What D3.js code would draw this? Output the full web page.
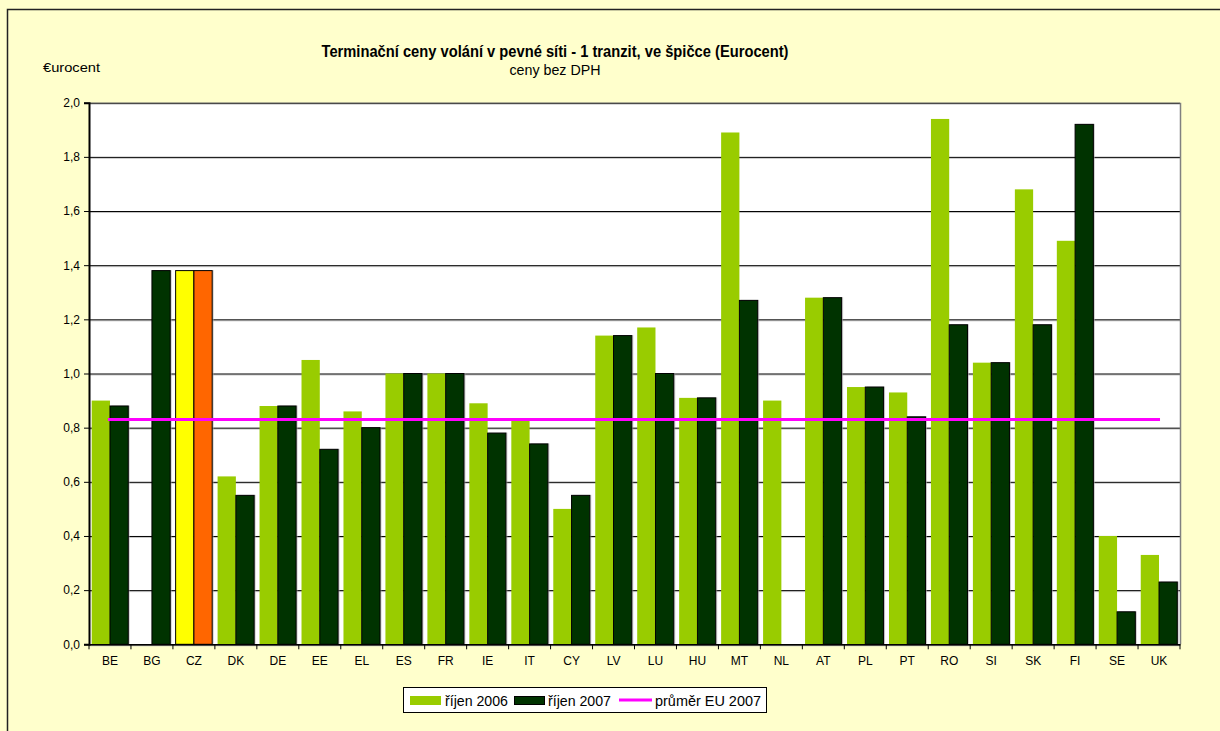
<!DOCTYPE html>
<html><head><meta charset="utf-8">
<script src="https://cdn.jsdelivr.net/npm/d3@7"></script>
<style>
html,body{margin:0;padding:0;background:#FFFFCC;}
svg{display:block;font-family:"Liberation Sans",Arial,sans-serif;}
</style></head>
<body>
<script>
const categories = ["BE","BG","CZ","DK","DE","EE","EL","ES","FR","IE","IT","CY","LV","LU","HU","MT","NL","AT","PL","PT","RO","SI","SK","FI","SE","UK"];
const oct2006 = [0.90,null,1.38,0.62,0.88,1.05,0.86,1.00,1.00,0.89,0.83,0.50,1.14,1.17,0.91,1.89,0.90,1.28,0.95,0.93,1.94,1.04,1.68,1.49,0.40,0.33];
const oct2007 = [0.88,1.38,1.38,0.55,0.88,0.72,0.80,1.00,1.00,0.78,0.74,0.55,1.14,1.00,0.91,1.27,null,1.28,0.95,0.84,1.18,1.04,1.18,1.92,0.12,0.23];
const euAverage2007 = 0.83;
const yTicks = [0,0.2,0.4,0.6,0.8,1.0,1.2,1.4,1.6,1.8,2.0];
const seriesNames = ["říjen 2006","říjen 2007","průměr EU 2007"];
const titleText = "Terminační ceny volání v pevné síti - 1 tranzit, ve špičce (Eurocent)";
const subtitleText = "ceny bez DPH";
const yAxisLabel = "€urocent";

const W = 1220, H = 731;
const m = {left: 89, right: 1180, top: 102.7, bottom: 644.3};
const colG = "#99CC00", colD = "#003300", colY = "#FFFF00", colO = "#FF6600", colM = "#FF00FF";

const svg = d3.select("body").append("svg").attr("width", W).attr("height", H);
svg.append("rect").attr("x",0).attr("y",0).attr("width",W).attr("height",H).attr("fill","#FFFFCC");
// outer border
svg.append("rect").attr("x",7.5).attr("y",9.5).attr("width",W+20).attr("height",H+20)
  .attr("fill","none").attr("stroke","#222").attr("stroke-width",1.5);

const x = d3.scaleBand().domain(categories).range([m.left, m.right]).padding(0);
const xi = d3.scaleBand().domain([0,1]).range([0, x.bandwidth()]).paddingInner(0).paddingOuter(0.148);
const y = d3.scaleLinear().domain([0,2]).range([m.bottom, m.top]);

// plot background
svg.append("rect").attr("x",m.left).attr("y",m.top).attr("width",m.right-m.left).attr("height",m.bottom-m.top).attr("fill","#fff");

// gridlines
const grid = svg.append("g");
yTicks.forEach(t => {
  grid.append("line").attr("x1",m.left).attr("x2",m.right).attr("y1",y(t)+1.5).attr("y2",y(t)+1.5).attr("stroke","#c8c8c8").attr("stroke-width",1);
  grid.append("line").attr("x1",m.left).attr("x2",m.right).attr("y1",y(t)+0.5).attr("y2",y(t)+0.5).attr("stroke","#000").attr("stroke-width",1);
});
// right border
svg.append("line").attr("x1",m.right+0.5).attr("x2",m.right+0.5).attr("y1",m.top).attr("y2",m.bottom).attr("stroke","#808080").attr("stroke-width",1.5);

// bars
const bars = svg.append("g");
categories.forEach((c,i) => {
  const v1 = oct2006[i], v2 = oct2007[i];
  const isCZ = c === "CZ";
  if (v1 != null) {
    const bx = x(c) + xi(0), by = y(v1), bw = xi.bandwidth(), bh = y(0) - y(v1);
    bars.append("rect").attr("x",bx).attr("y",by).attr("width",bw).attr("height",bh)
      .attr("fill", isCZ ? colY : colG)
      .attr("stroke", isCZ ? "#000" : "none").attr("stroke-width", 1);
  }
  if (v2 != null) {
    const bx = x(c) + xi(1), by = y(v2), bw = xi.bandwidth(), bh = y(0) - y(v2);
    bars.append("rect").attr("x",bx+1.5).attr("y",by-0.5).attr("width",bw).attr("height",bh)
      .attr("fill","#aaa").attr("opacity",0.6);
    bars.append("rect").attr("x",bx).attr("y",by).attr("width",bw).attr("height",bh)
      .attr("fill", isCZ ? colO : colD)
      .attr("stroke","#000").attr("stroke-width",1);
  }
});

// EU average line
const first = categories[0], last = categories[categories.length-1];
svg.append("line")
  .attr("x1", x(first) + x.bandwidth()/2 - 2).attr("x2", x(last) + x.bandwidth()/2 + 1)
  .attr("y1", y(euAverage2007)).attr("y2", y(euAverage2007))
  .attr("stroke", colM).attr("stroke-width", 3);

// y axis
const yAxis = d3.axisLeft(y).tickValues(yTicks).tickSize(5).tickPadding(4)
  .tickFormat(d => d3.format(".1f")(d).replace(".", ","));
const ya = svg.append("g").attr("transform",`translate(${m.left},0)`).call(yAxis);
ya.select(".domain").attr("stroke","#000").attr("stroke-width",2);
ya.selectAll(".tick line").attr("stroke","#000");
ya.selectAll("text").attr("font-size",12).attr("fill","#000").attr("font-family","Liberation Sans, Arial, sans-serif");

// x axis
const xa = svg.append("g").attr("transform",`translate(0,${m.bottom})`)
  .call(d3.axisBottom(x).tickSize(0).tickPadding(12));
xa.select(".domain").attr("stroke","#000").attr("stroke-width",1.5);
xa.selectAll("text").attr("font-size",12).attr("fill","#000").attr("font-family","Liberation Sans, Arial, sans-serif");
// category boundary ticks
const bounds = categories.map(c => x(c)).concat([m.right]);
xa.selectAll("line.bnd").data(bounds).enter().append("line").attr("class","bnd")
  .attr("x1",d=>d).attr("x2",d=>d).attr("y1",0).attr("y2",5).attr("stroke","#000");

// titles
svg.append("text").attr("x",555).attr("y",57).attr("text-anchor","middle")
  .attr("font-size",16.5).attr("font-weight","bold").attr("fill","#000")
  .attr("textLength",467).attr("lengthAdjust","spacingAndGlyphs").text(titleText);
svg.append("text").attr("x",555).attr("y",75).attr("text-anchor","middle")
  .attr("font-size",15).attr("fill","#000")
  .attr("textLength",91).attr("lengthAdjust","spacingAndGlyphs").text(subtitleText);
svg.append("text").attr("x",43).attr("y",72)
  .attr("font-size",13.5).attr("fill","#000")
  .attr("textLength",57).attr("lengthAdjust","spacingAndGlyphs").text(yAxisLabel);

// legend
const lg = svg.append("g");
lg.append("rect").attr("x",403.5).attr("y",687.5).attr("width",363).attr("height",25)
  .attr("fill","#fff").attr("stroke","#000").attr("stroke-width",1);
lg.append("rect").attr("x",410).attr("y",696).attr("width",31).attr("height",9).attr("fill",colG);
lg.append("text").attr("x",445).attr("y",705.5).attr("font-size",14).attr("fill","#000")
  .attr("textLength",63).attr("lengthAdjust","spacingAndGlyphs").text(seriesNames[0]);
lg.append("rect").attr("x",514.5).attr("y",696.5).attr("width",30).attr("height",8).attr("fill",colD).attr("stroke","#000");
lg.append("text").attr("x",548).attr("y",705.5).attr("font-size",14).attr("fill","#000")
  .attr("textLength",63).attr("lengthAdjust","spacingAndGlyphs").text(seriesNames[1]);
lg.append("line").attr("x1",619).attr("x2",652).attr("y1",700).attr("y2",700).attr("stroke",colM).attr("stroke-width",3);
lg.append("text").attr("x",655).attr("y",705.5).attr("font-size",14).attr("fill","#000")
  .attr("textLength",106).attr("lengthAdjust","spacingAndGlyphs").text(seriesNames[2]);
</script>
</body></html>
